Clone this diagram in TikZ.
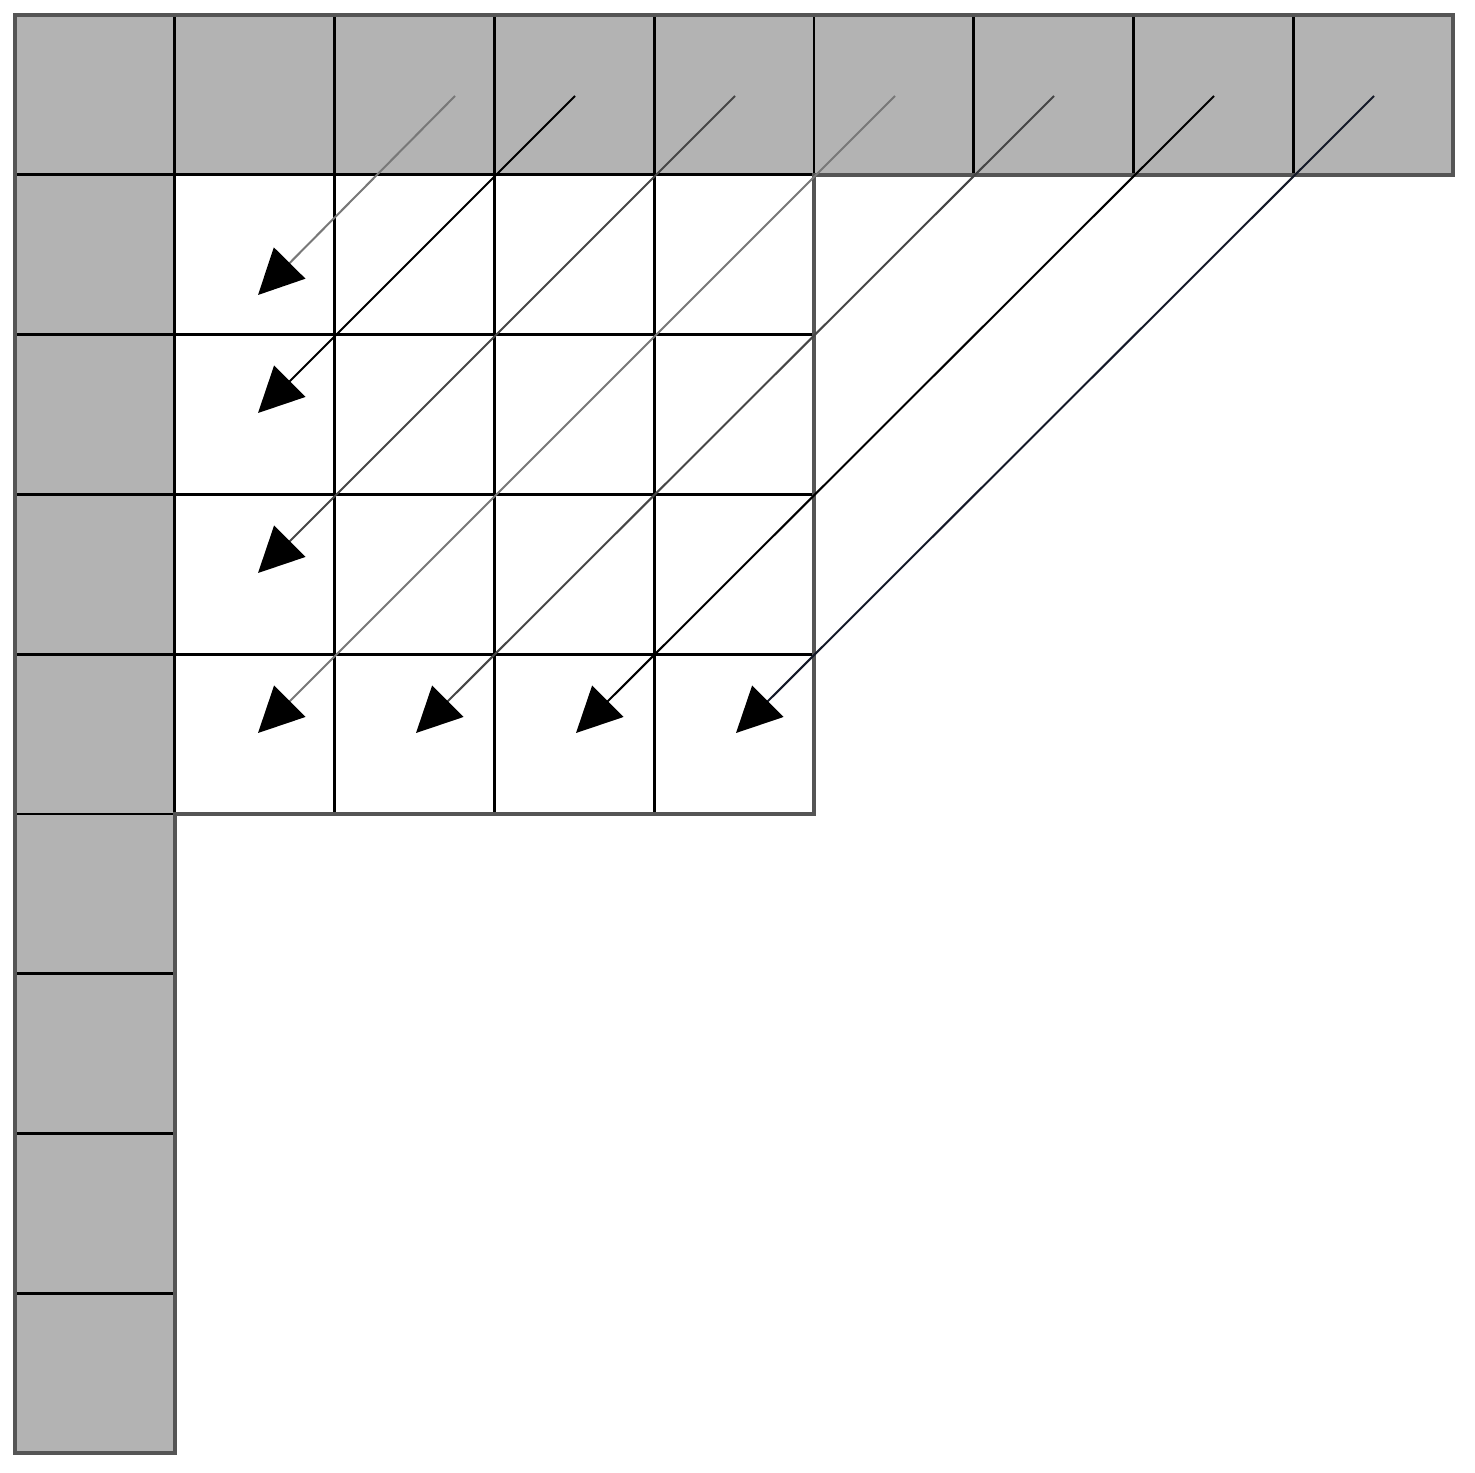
\documentclass[tikz,border=0pt]{standalone}
\usetikzlibrary{arrows.meta}
\definecolor{cellgray}{RGB}{179,179,179}
\definecolor{edgegray}{RGB}{85,85,85}
\definecolor{lgray}{RGB}{120,120,120}
\definecolor{mgray}{RGB}{70,70,70}
\definecolor{navyblack}{RGB}{20,25,40}
\begin{document}
\begin{tikzpicture}[x=0.5pt,y=-0.5pt,
  cellbase/.style={rectangle, minimum width=79.9pt, minimum height=79.9pt,
    inner sep=0pt, outer sep=0pt, line width=1.4pt, draw=black},
  graycell/.style={cellbase, fill=cellgray},
  whitecell/.style={cellbase, fill=white},
  outline/.style={draw=edgegray, line width=1.8pt, line join=miter},
  diag/.style={line width=1pt, -{Triangle[length=22.5pt,width=22pt,fill=black,color=black]}},
]
\useasboundingbox (0,0) rectangle (1475,1472);
% top row
\foreach \i in {0,...,8}
  \node[graycell] (T\i) at ({15+159.8*(\i+0.5)},94.9) {};
% left column
\foreach \j in {1,...,8}
  \node[graycell] (L\j) at (94.9,{15+159.8*(\j+0.5)}) {};
% white grid
\foreach \r in {1,...,4}
  \foreach \c in {1,...,4}
    \node[whitecell] (W\r\c) at ({15+159.8*(\c+0.5)},{15+159.8*(\r+0.5)}) {};
% outer outline
\draw[outline] (T0.north west) -- (T8.north east) -- (T8.south east)
  -- (W14.north east) -- (W44.south east) -- (W41.south west)
  -- (L8.south east) -- (L8.south west) -- cycle;
% arrow end points
\coordinate (s1) at (455,96);  \coordinate (e1) at (258,295);
\coordinate (s2) at (575,96);  \coordinate (e2) at (258,413);
\coordinate (s3) at (735,96);  \coordinate (e3) at (258,573);
\coordinate (s4) at (895,96);  \coordinate (e4) at (258,733);
\coordinate (s5) at (1054,96); \coordinate (e5) at (416,733);
\coordinate (s6) at (1214,96); \coordinate (e6) at (576,733);
\coordinate (s7) at (1374,96); \coordinate (e7) at (736,733);
% arrows
\draw[diag, lgray] (s1) -- (e1);
\draw[diag, black] (s2) -- (e2);
\draw[diag, mgray] (s3) -- (e3);
\draw[diag, lgray] (s4) -- (e4);
\draw[diag, mgray] (s5) -- (e5);
\draw[diag, black] (s6) -- (e6);
\draw[diag, navyblack] (s7) -- (e7);
\end{tikzpicture}
\end{document}
